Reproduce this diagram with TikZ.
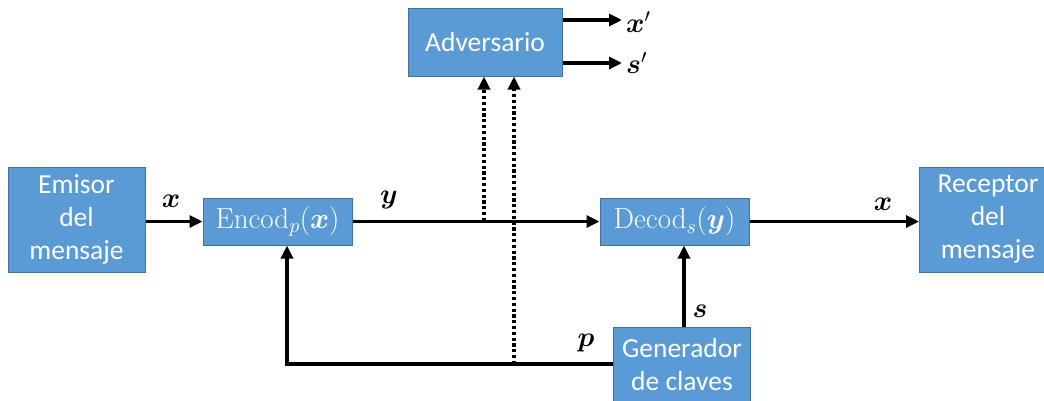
\RequirePackage{fix-cm}
\documentclass[tikz,border=0pt]{standalone}
\usepackage[no-math]{fontspec}
\setmainfont{Carlito}
\usepackage{amsmath}
\usepackage{bm}
\usetikzlibrary{arrows.meta}
\definecolor{boxfill}{HTML}{5B9BD5}
\definecolor{boxline}{HTML}{41719C}
\tikzset{
  blk/.style={draw=boxline, line width=1pt, fill=boxfill, text=white, align=center,
    inner sep=0pt, font=\fontsize{27.5}{33}\selectfont},
  mathblk/.style={blk, font=\fontsize{29}{34}\selectfont},
  conn/.style={line width=3.2pt, -{Triangle[length=13pt,width=12pt]}},
  dotconn/.style={line width=3.4pt, dash pattern=on 3.2pt off 2.6pt, -{Triangle[length=13pt,width=12pt]}},
  lab/.style={font=\fontsize{28}{34}\selectfont, inner sep=0pt},
}
\begin{document}
\begin{tikzpicture}[x=1pt,y=-1pt]
\useasboundingbox (0,0) rectangle (1044,400);
\clip (0,0) rectangle (1044,400);
\fill[white] (0,0) rectangle (1044,400);

\node[blk, minimum width=137pt, minimum height=105pt] (emi) at (76.5,219.5) {Emisor\\del\\mensaje};
\node[mathblk, minimum width=149pt, minimum height=47pt] (enc) at (277.5,221.5) {$\mathrm{Encod}_{p}(\bm{x})$};
\node[mathblk, minimum width=149pt, minimum height=47pt] (dec) at (674.5,221.5) {$\mathrm{Decod}_{s}(\bm{y})$};
\node[blk, minimum width=154pt, minimum height=68pt] (adv) at (485,42) {Adversario};
\node[blk, minimum width=137pt, minimum height=105pt] (rec) at (988,219.5) {Receptor\\del\\mensaje};
\node[blk, minimum width=137pt, minimum height=76pt] (gen) at (682,365) {Generador\\de claves};

% main chain
\draw[conn] (emi.east |- enc.west) -- (enc.west);
\draw[conn] (enc.east) -- (dec.west);
\draw[conn] (dec.east) -- (rec.west |- dec.east);

\node[lab] (lx1) at (171,201) {$\bm{x}$};
\node[lab] (ly) at (389,200) {$\bm{y}$};
\node[lab] (lx2) at (883,204) {$\bm{x}$};

% adversary outputs
\coordinate (o1) at (622,20);
\coordinate (o2) at (622,63);
\draw[conn] (adv.east |- o1) -- (o1);
\draw[conn] (adv.east |- o2) -- (o2);
\node[lab, anchor=west] (lxp) at (626,22) {$\bm{x}'$};
\node[lab, anchor=west] (lsp) at (626,63) {$\bm{s}'$};

% key generator
\coordinate (corner) at (287,364);
\coordinate (tap2) at (514,364);
\draw[conn] (gen.west |- corner) -- (corner) -- (enc.south -| corner);
\draw[conn] (gen.north -| 684,0) -- (dec.south -| 684,0);
\node[lab] (lp) at (586,343) {$\bm{p}$};
\node[lab] (ls) at (700,311) {$\bm{s}$};

% eavesdropping
\coordinate (tap1) at (484,221);
\draw[dotconn] (tap1) -- (adv.south -| tap1);
\draw[dotconn] (tap2) -- (adv.south -| tap2);
\end{tikzpicture}
\end{document}
